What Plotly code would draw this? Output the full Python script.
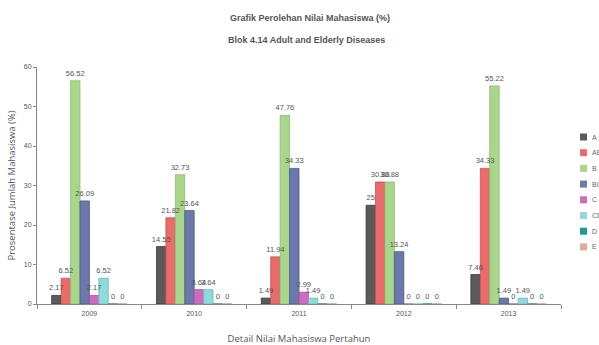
import plotly.graph_objects as go

years = ["2009", "2010", "2011", "2012", "2013"]
grades = ["A", "AB", "B", "BC", "C", "CD", "D", "E"]
val_A = [2.17, 14.55, 1.49, 25, 7.46]
val_AB = [6.52, 21.82, 11.94, 30.88, 34.33]
val_B = [56.52, 32.73, 47.76, 30.88, 55.22]
val_BC = [26.09, 23.64, 34.33, 13.24, 1.49]
val_C = [2.17, 3.64, 2.99, 0, 0]
val_CD = [6.52, 3.64, 1.49, 0, 1.49]
val_D = [0, 0, 0, 0, 0]
val_E = [0, 0, 0, 0, 0]
series = [val_A, val_AB, val_B, val_BC, val_C, val_CD, val_D, val_E]

colors = ["#5a5a5a", "#e86c6c", "#a9d68c", "#6a78aa", "#cc6cc0", "#8fdada", "#1f9c95", "#e3ab94"]
edges = ["#3a3a3a", "#c85050", "#8cbc70", "#4c5a8c", "#aa50a0", "#6cbcbc", "#107a74", "#c08a74"]

FONT = "Liberation Sans Narrow, Liberation Sans, Arial"
ML, MR, MT, MB = 37, 38, 67, 41
W, H = 599, 345
pw, ph = W - ML - MR, H - MT - MB


def px_x(x):
    return (x - ML) / pw


def px_y(y_from_top):
    return (H - y_from_top - MB) / ph


fig = go.Figure()
# bars
for name, vals, c, e in zip(grades, series, colors, edges):
    fig.add_trace(go.Bar(
        x=years, y=vals, name=name, offsetgroup=name,
        marker=dict(color=c, line=dict(color=e, width=0.8)),
        showlegend=False, hoverinfo="x+y+name",
    ))
# value labels drawn on top of all bars
for name, vals in zip(grades, series):
    fig.add_trace(go.Bar(
        x=years, y=vals, name=name, offsetgroup=name,
        marker=dict(color="rgba(0,0,0,0)", line=dict(width=0)),
        text=[("%g" % v) for v in vals],
        textposition="outside", constraintext="none",
        textfont=dict(size=7.5, color="#555555", family=FONT),
        cliponaxis=False, showlegend=False, hoverinfo="skip",
    ))

shapes = []
annotations = [
    dict(text="<b>Grafik Perolehan Nilai Mahasiswa (%)</b>", x=px_x(310), y=px_y(18),
         xref="paper", yref="paper", xanchor="center", yanchor="middle", showarrow=False,
         font=dict(size=9, color="#555555", family=FONT)),
    dict(text="<b>Blok 4.14 Adult and Elderly Diseases</b>", x=px_x(306), y=px_y(40),
         xref="paper", yref="paper", xanchor="center", yanchor="middle", showarrow=False,
         font=dict(size=9, color="#555555", family=FONT)),
]
# legend (built from grades/colors)
for i, (name, c) in enumerate(zip(grades, colors)):
    yc = 137 + i * 15.7
    shapes.append(dict(type="rect", xref="paper", yref="paper",
                       x0=px_x(580), x1=px_x(587), y0=px_y(yc + 3.5), y1=px_y(yc - 3.5),
                       fillcolor=c, line=dict(width=0)))
    annotations.append(dict(text=name, x=px_x(590), y=px_y(yc), xref="paper", yref="paper",
                            xanchor="left", yanchor="middle", showarrow=False,
                            font=dict(size=7, color="#666666", family=FONT)))

fig.update_layout(
    width=W, height=H,
    margin=dict(l=ML, r=MR, t=MT, b=MB, autoexpand=False),
    paper_bgcolor="white", plot_bgcolor="white",
    barmode="group", bargap=0.28, bargroupgap=0,
    font=dict(family=FONT, color="#555555"),
    showlegend=False,
    shapes=shapes,
    annotations=annotations,
)

fig.update_xaxes(
    type="category", showline=True, linecolor="#888888", linewidth=1,
    ticks="outside", tickson="boundaries", ticklen=4, tickcolor="#888888",
    tickfont=dict(size=7, color="#555555"), ticklabelstandoff=3,
    title=dict(text="Detail Nilai Mahasiswa Pertahun",
               font=dict(size=9.5, color="#555555", family="Open Sans, Liberation Sans"), standoff=20),
    showgrid=False, zeroline=False,
)
fig.update_yaxes(
    range=[0, 60], dtick=10, showline=True, linecolor="#888888", linewidth=1,
    ticks="outside", ticklen=3, tickcolor="#888888",
    tickfont=dict(size=7, color="#555555"),
    title=dict(text="Prosentase Jumlah Mahasiswa (%)",
               font=dict(size=9.5, color="#555555", family="Open Sans, Liberation Sans"), standoff=6),
    showgrid=False, zeroline=False,
)

fig.write_html("out.html")
